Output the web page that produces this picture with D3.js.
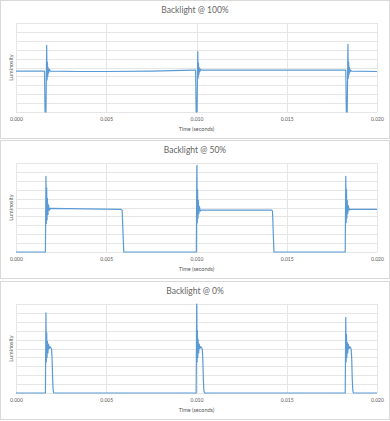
<!DOCTYPE html>
<html>
<head>
<meta charset="utf-8">
<script src="https://cdn.jsdelivr.net/npm/d3@7/dist/d3.min.js"></script>
<style>
  body { margin: 0; background: #fff; }
  text { font-family: Lato, "Open Sans", sans-serif; fill: #595959; }
</style>
</head>
<body>
<script>
const w = 390;
const h = 421;

// * DATA
const titles = ["Backlight @ 100%", "Backlight @ 50%", "Backlight @ 0%"];
const xTicks = [0, 0.005, 0.01, 0.015, 0.02];
const yGrid = [0, 0.1, 0.2, 0.3, 0.4, 0.5, 0.6, 0.7, 0.8, 0.9, 1];

const time100 = [0, 0.00158, 0.00161, 0.00166, 0.0017, 0.00172, 0.00174, 0.00176, 0.00178, 0.00181, 0.00185, 0.0019,
  0.0035, 0.005, 0.0075, 0.0098,
  0.00995, 0.00998, 0.01003, 0.01007, 0.01009, 0.01011, 0.01013, 0.01015, 0.01018, 0.01022, 0.01027,
  0.015, 0.0181,
  0.01827, 0.0183, 0.01835, 0.01839, 0.01841, 0.01843, 0.01845, 0.01847, 0.0185, 0.01854, 0.01859, 0.02];
const lum100 = [0.46, 0.46, 0, 0, 0.75, 0.36, 0.56, 0.40, 0.50, 0.44, 0.48, 0.46,
  0.455, 0.455, 0.46, 0.47,
  0.47, 0, 0, 0.68, 0.38, 0.55, 0.42, 0.50, 0.45, 0.48, 0.47,
  0.47, 0.47,
  0.47, 0, 0, 0.76, 0.38, 0.56, 0.42, 0.50, 0.45, 0.47, 0.46, 0.455];

const time50 = [0, 0.00163, 0.00166, 0.00168, 0.0017, 0.00172, 0.00174, 0.00177, 0.0018, 0.00185, 0.0019,
  0.0058, 0.00588, 0.00597,
  0.00999, 0.01002, 0.01004, 0.01006, 0.01008, 0.0101, 0.01013, 0.01016, 0.01021, 0.01026,
  0.01417, 0.01421, 0.01429,
  0.01824, 0.01827, 0.01829, 0.01831, 0.01833, 0.01835, 0.01838, 0.01841, 0.01846, 0.01851, 0.02];
const lum50 = [0, 0, 0.85, 0.32, 0.72, 0.36, 0.60, 0.42, 0.53, 0.47, 0.49,
  0.48, 0.47, 0,
  0, 0.97, 0.33, 0.70, 0.38, 0.58, 0.43, 0.51, 0.46, 0.47,
  0.47, 0.46, 0,
  0, 0.85, 0.33, 0.70, 0.38, 0.58, 0.43, 0.52, 0.47, 0.48, 0.48];

const time0 = [0, 0.00163, 0.00166, 0.00168, 0.0017, 0.00172, 0.00174, 0.00177, 0.0018, 0.00184, 0.00188, 0.00193, 0.00197, 0.002, 0.00203, 0.00206, 0.00209,
  0.00998, 0.01001, 0.01003, 0.01005, 0.01007, 0.01009, 0.01012, 0.01015, 0.01019, 0.01023, 0.01028, 0.01032, 0.01035, 0.01038, 0.01041, 0.01044,
  0.01824, 0.01827, 0.01829, 0.01831, 0.01833, 0.01835, 0.01838, 0.01841, 0.01845, 0.01849, 0.01854, 0.01857, 0.0186, 0.01863, 0.01866, 0.01869,
  0.02];
const lum0 = [0, 0, 0.90, 0.35, 0.68, 0.40, 0.58, 0.45, 0.55, 0.50, 0.52, 0.51, 0.49, 0.38, 0.15, 0.03, 0,
  0, 1.0, 0.35, 0.70, 0.40, 0.60, 0.45, 0.55, 0.50, 0.52, 0.51, 0.49, 0.38, 0.15, 0.03, 0,
  0, 0.85, 0.35, 0.66, 0.40, 0.57, 0.45, 0.55, 0.50, 0.52, 0.51, 0.49, 0.38, 0.15, 0.03, 0,
  0];

const series = [
  [time100, lum100],
  [time50, lum50],
  [time0, lum0],
];

// * SVG BASE SETUP
const svg = d3.select("body").append("svg").attr("width", w).attr("height", h);

const panelTop = [0, 140, 281];
const plotLeft = 16, plotRight = 377;
const plotTop = 23, plotBottom = 112;

const xScale = d3.scaleLinear().domain([0, 0.02]).range([plotLeft, plotRight]);
const yScale = d3.scaleLinear().domain([0, 1]).range([plotBottom, plotTop]);
const line = d3.line().x((d) => xScale(d[0])).y((d) => yScale(d[1]));

series.forEach(([ts, vs], i) => {
  const g = svg.append("g").attr("transform", "translate(0," + panelTop[i] + ")");

  // frame
  g.append("rect")
    .attr("x", 0.5).attr("y", 0.5)
    .attr("width", w - 1).attr("height", 138)
    .attr("fill", "#fff").attr("stroke", "#d9d9d9");

  // gridlines
  g.append("g").selectAll("line").data(yGrid).enter().append("line")
    .attr("x1", plotLeft).attr("x2", plotRight)
    .attr("y1", (d) => Math.round(yScale(d)) + 0.5)
    .attr("y2", (d) => Math.round(yScale(d)) + 0.5)
    .attr("stroke", "#e6e6e6").attr("stroke-width", 1);
  g.append("g").selectAll("line").data(xTicks).enter().append("line")
    .attr("x1", (d) => Math.round(xScale(d)) + 0.5)
    .attr("x2", (d) => Math.round(xScale(d)) + 0.5)
    .attr("y1", plotTop).attr("y2", plotBottom)
    .attr("stroke", "#e6e6e6").attr("stroke-width", 1);

  // x axis labels
  const xAxis = d3.axisBottom(xScale).tickValues(xTicks).tickFormat(d3.format(".3f")).tickSize(0).tickPadding(5);
  const ax = g.append("g").attr("transform", "translate(0," + plotBottom + ")").call(xAxis);
  ax.select(".domain").remove();
  ax.selectAll("text").style("font-size", "5px").attr("fill", "#6b6b6b")
    .style("font-family", "Lato, 'Open Sans', sans-serif");

  // titles
  g.append("text")
    .attr("x", w / 2).attr("y", 13)
    .attr("text-anchor", "middle")
    .style("font-size", "8.5px")
    .style("fill", "#666")
    .text(titles[i]);
  g.append("text")
    .attr("x", (plotLeft + plotRight) / 2).attr("y", 131)
    .attr("text-anchor", "middle")
    .style("font-size", "5.5px")
    .text("Time (seconds)");
  g.append("text")
    .attr("transform", "translate(13," + (plotTop + plotBottom) / 2 + ") rotate(-90)")
    .attr("text-anchor", "middle")
    .style("font-size", "5.5px")
    .text("Luminosity");

  // line
  g.append("path")
    .datum(d3.zip(ts, vs))
    .attr("d", line)
    .attr("fill", "none")
    .attr("stroke", "#5b9bd5")
    .attr("stroke-width", 1.2)
    .attr("stroke-linejoin", "round");
});
</script>
</body>
</html>
